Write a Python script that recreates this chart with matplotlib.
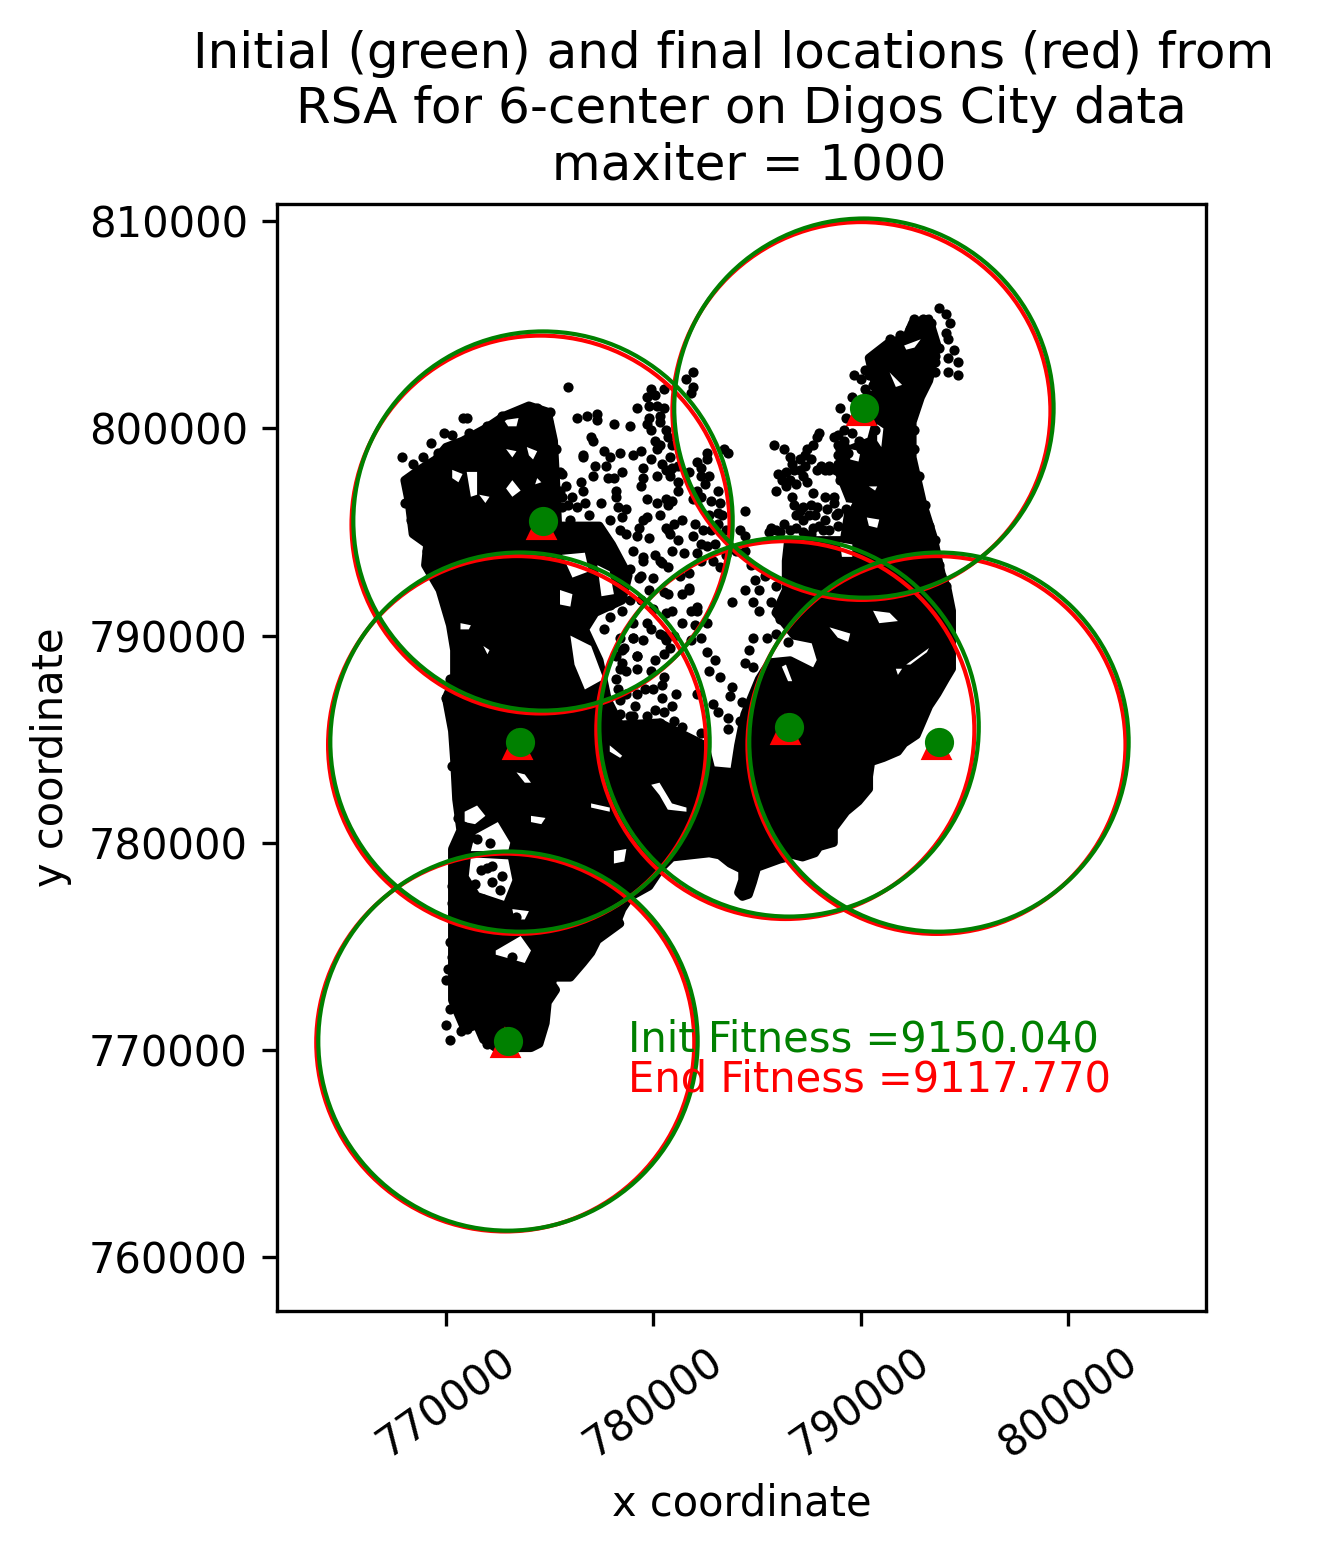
import matplotlib
matplotlib.use('Agg')
import matplotlib.pyplot as plt
import numpy as np

# everything, in thousands of map units
init_x = [790.16, 774.68, 773.57, 772.99, 786.55, 793.78]
init_y = [800.98, 795.53, 784.86, 770.43, 785.59, 784.86]
final_x = [790.04, 774.56, 773.43, 772.86, 786.37, 793.66]
final_y = [800.84, 795.36, 784.72, 770.36, 785.44, 784.72]
init_radius = 9150.040
final_radius = 9117.770

# outline of the part where the points merge into one mass
land = [(768.2,796.5),(768.0,797.5),(768.7,798.0),(769.5,798.5),(770.0,799.1),(770.8,799.4),(771.9,800.0),
        (772.8,800.6),(774.0,801.1),(774.9,800.8),(775.2,799.4),(775.3,797.5),(775.4,795.3),(776.2,795.3),
        (777.4,795.3),(778.0,794.4),(778.8,792.9),(778.5,791.7),(777.2,791.1),(776.7,790.3),(777.4,788.8),
        (777.8,786.9),(778.4,785.7),(780.3,785.8),(781.5,785.2),(782.5,784.7),(782.8,783.5),(783.9,783.4),
        (784.1,784.7),(784.4,786.2),(785.1,787.9),(785.6,788.7),(786.6,788.8),(787.8,788.2),(788.1,788.8),
        (787.8,789.8),(786.8,790.0),(786.4,790.5),(785.9,791.1),(786.4,792.2),(786.4,793.6),(786.5,794.5),
        (787.1,794.6),(789.2,794.6),(789.5,796.5),(788.9,798.0),(789.5,799.0),(790.5,799.4),(790.9,800.9),
        (790.7,802.1),(790.4,803.4),(791.3,804.1),(792.2,804.4),(792.5,805.1),(793.3,805.3),(793.7,804.0),
        (793.3,802.3),(792.9,801.5),(792.5,800.3),(792.5,798.6),(793.0,796.4),(793.5,794.8),(793.9,793.0),
        (794.2,792.2),(794.4,791.2),(794.4,790.6),(794.4,789.4),(794.4,788.4),(794.1,787.9),(793.7,787.2),
        (793.3,786.6),(793.0,785.9),(792.7,785.2),(792.1,784.8),(791.8,784.4),(791.1,784.1),(790.5,783.9),
        (790.4,783.2),(790.4,782.6),(789.9,782.0),(789.3,781.5),(788.7,780.7),(788.7,780.0),(788.0,779.8),
        (787.8,779.5),(787.2,779.3),(786.8,779.4),(786.7,779.8),(786.5,779.3),(786.1,779.2),(785.0,778.8),
        (784.8,778.1),(784.6,777.5),(784.3,777.4),(784.1,777.6),(784.3,778.2),(784.3,778.7),(783.7,779.0),
        (783.2,779.4),(782.7,779.5),(781.8,779.4),(780.9,779.3),(780.4,778.8),(779.8,777.9),(778.9,777.4),
        (778.5,776.8),(778.3,776.3),(778.4,776.1),(777.3,775.3),(777.0,774.7),(776.6,774.2),(776.0,773.5),
        (775.2,773.5),(775.1,773.2),(775.3,772.9),(774.9,772.3),(774.8,771.3),(774.5,770.3),(774.1,770.1),
        (772.4,770.1),(771.8,770.5),(771.5,771.2),(770.9,771.0),(770.3,772.4),(770.3,774.1),(770.3,777.2),
        (770.3,779.7),(770.7,780.6),(770.5,782.1),(770.4,784.0),(770.3,785.4),(770.0,787.0),(770.4,787.9),
        (770.4,789.3),(770.2,790.5),(769.7,792.2),(769.0,793.4),(769.1,794.4),(768.4,794.9)]

# gaps inside that mass
gaps = [
    [(771.2,779.3),(773.0,779.2),(773.2,778.2),(772.8,777.2),(771.6,777.6),(771.1,778.4)],
    [(771.4,780.4),(772.5,781.0),(773.1,780.0),(773.0,779.6),(771.2,779.6)],
    [(770.9,781.5),(771.5,781.8),(771.9,781.3),(771.4,780.9),(770.9,781.0)],
    [(772.4,774.8),(773.6,775.5),(774.1,774.8),(773.8,774.2),(772.4,774.6)],
    [(773.2,776.8),(774.0,776.7),(773.8,776.3),(773.3,776.3)],
    [(778.1,779.6),(778.7,779.7),(778.6,779.1),(778.1,779.0)],
    [(776.0,790.0),(777.0,789.5),(777.6,787.9),(776.7,787.4),(776.2,788.6)],
    [(779.9,782.8),(780.3,782.9),(780.9,781.9),(781.6,781.7),(781.6,781.5),(780.7,781.6),(780.3,782.3)],
    [(777.9,784.7),(778.5,784.2),(778.4,784.1),(777.9,784.4)],
    [(777.0,781.9),(777.9,781.7),(777.9,781.5),(777.0,781.7)],
    [(773.4,783.4),(773.8,783.3),(774.1,782.9),(773.8,782.9)],
    [(774.1,781.3),(774.8,781.2),(774.6,780.9),(774.1,781.0)],
    [(788.5,790.4),(789.5,790.1),(789.4,789.7),(788.9,789.9)],
    [(790.6,791.2),(791.4,791.1),(791.8,790.7),(790.9,790.6)],
    [(792.2,788.6),(793.3,789.4),(793.2,789.2),(792.4,788.6)],
    [(791.7,788.4),(792.0,788.4),(791.8,788.1)],
    [(786.4,788.6),(786.7,787.8),(786.5,787.8),(786.2,788.5)],
    [(789.0,794.5),(789.6,794.4),(789.6,793.8),(789.1,793.8)],
    [(788.8,796.5),(789.6,796.4),(789.5,796.2),(788.8,796.2)],
    [(789.5,799.0),(790.0,798.9),(789.9,798.4),(789.5,798.5)],
    [(790.3,795.7),(790.9,795.6),(790.8,795.2),(790.4,795.3)],
    [(790.4,797.2),(790.8,797.2),(790.7,797.0)],
    [(791.4,802.7),(792.0,802.1),(791.7,802.0)],
    [(790.8,800.2),(791.1,800.0),(791.0,799.1),(790.8,799.4)],
    [(792.1,804.0),(792.9,804.3),(792.6,803.9),(792.2,803.8)],
    [(773.2,797.5),(773.6,797.0),(773.2,796.7),(772.9,797.1)],
    [(773.9,799.1),(774.4,798.9),(774.2,798.5),(774.0,798.7)],
    [(772.9,799.0),(773.4,798.9),(773.2,798.6)],
    [(771.0,797.9),(771.5,797.9),(771.5,796.8),(771.2,796.7)],
    [(771.6,796.8),(772.1,796.7),(771.9,796.4)],
    [(774.4,797.6),(774.6,797.4),(774.3,797.3)],
    [(770.3,798.0),(770.8,797.8),(770.6,797.4),(770.3,797.6)],
    [(772.8,800.4),(773.5,800.5),(773.4,800.1),(773.0,800.1)],
    [(775.6,793.9),(776.7,794.0),(776.9,793.1),(776.1,792.8)],
    [(777.3,793.4),(777.9,793.1),(778.1,792.0),(777.5,791.9)],
    [(775.5,792.2),(776.1,792.0),(776.0,791.4),(775.5,791.5)],
    [(770.7,790.6),(771.2,790.5),(771.1,790.3),(770.7,790.3)],
    [(771.8,789.5),(772.1,789.3),(772.0,789.1)],
]

# single points that can still be told apart
mid_pts = [(775.9,802.0),(779.2,801.0),(778.1,800.2),(778.9,800.1),(776.3,800.5),(776.8,800.6),(777.3,800.7),
           (777.3,800.4),(777.0,799.6),(777.1,799.4),(776.6,798.7),(776.6,798.6),(777.6,798.9),(777.9,798.6),
           (778.4,798.8),(779.0,798.7),(779.4,798.9),(777.2,798.2),(777.7,798.2),(778.5,797.9),(775.6,797.8),
           (777.1,797.7),(776.5,797.4),(776.6,797.0),(777.8,797.6),(778.1,797.6),(779.5,798.1),(779.9,798.5),
           (779.5,797.6),(779.4,797.2),(779.7,796.6),(778.2,797.0),(778.2,796.7),(776.7,796.4),(777.5,796.4),
           (775.6,796.2),(776.3,796.2),(776.1,796.7),(775.8,797.2),(775.6,796.7),(778.3,796.2),(778.7,796.1),
           (778.5,795.7),(780.2,796.4),(780.6,796.6),(779.7,795.7),(779.5,795.6),(779.3,795.2),(780.6,795.2),
           (781.0,795.4),(778.7,794.9),(779.2,794.8),(779.8,794.7),(780.9,794.1),(780.3,793.6),(779.5,793.6),
           (780.0,792.8),(779.3,792.8),(780.5,792.1),(777.3,791.5),(777.9,791.5),(779.9,801.9),(780.5,801.9),
           (779.7,801.5),(780.2,801.1),(780.5,801.0),(779.8,800.5),(780.3,800.3),(779.9,799.9),(780.1,799.4),
           (780.2,799.0),(780.7,799.6),(780.8,798.6),(780.9,798.1),(780.2,797.7),(780.4,798.3),(780.1,801.6),
           (780.3,800.6),(780.6,799.9),(779.8,801.1),(779.7,800.2),(780.3,799.2),(780.9,799.2),(780.6,798.0),
           (781.2,797.0),(780.9,796.5),(775.5,797.0),(775.9,796.3),(775.3,796.5),(775.5,797.9),(776.0,795.6),
           (776.9,795.8),(777.9,795.6),(778.4,795.1),(779.0,794.1),(778.9,793.2),(779.4,792.9)]

centre_pts = [(781.6,802.4),(781.9,802.7),(781.9,802.0),(781.8,801.7),(783.4,799.0),(783.6,798.8),(782.6,798.8),
              (782.1,798.4),(782.6,798.5),(782.3,797.7),(782.7,797.7),(782.1,797.0),(782.3,796.7),(781.2,797.4),
              (781.7,797.9),(780.8,797.7),(783.1,797.0),(783.2,796.4),(783.1,795.9),(784.4,796.0),(782.0,795.4),
              (781.9,794.8),(782.4,795.1),(782.6,794.3),(783.1,795.4),(781.4,795.6),(780.7,795.1),(781.5,794.0),
              (782.1,794.0),(780.4,793.5),(779.5,793.8),(781.7,793.0),(781.7,792.3),(781.4,792.0),(780.7,792.0),
              (782.1,791.4),(783.8,791.6),(783.2,793.3),(782.9,793.6),(784.2,795.1),(784.4,794.8),(782.3,798.1),
              (782.5,797.3),(781.9,796.6),(782.8,796.5),(782.7,795.8),(783.3,795.8),(783.5,795.1),(782.8,795.1),
              (783.0,794.4),(782.3,794.4),(783.5,793.9),(784.0,794.1),(784.4,794.1),(784.7,793.4),(785.4,792.9),
              (785.9,792.4),(785.1,792.2),(784.4,792.2),(784.9,792.7),(782.3,793.6),(781.2,798.2),(780.8,798.0),
              (780.7,796.3),(780.3,795.8),(780.8,794.9),(781.2,794.6),(780.1,793.9),(780.7,793.3),(779.8,792.2),
              (779.4,791.7),(778.9,791.7),(780.9,791.2),(781.3,792.9),(781.8,791.2),(782.0,790.5)]

north_pts = [(785.8,799.2),(786.3,799.0),(786.6,798.6),(786.7,798.3),(785.9,797.0),(786.0,797.8),(786.4,797.9),
             (786.4,797.2),(786.7,796.7),(787.2,796.2),(787.2,795.6),(787.9,796.2),(785.7,795.2),(786.3,795.4),
             (786.9,795.2),(787.7,795.2),(788.0,795.3),(788.2,795.1),(787.4,797.4),(787.7,796.9),(787.2,797.7),
             (787.9,798.0),(788.5,798.0),(788.9,798.3),(789.0,799.0),(789.4,798.8),(787.1,798.5),(787.4,799.0),
             (787.9,799.6),(788.0,799.8),(788.7,799.6),(789.2,799.9),(789.6,799.8),(789.9,799.4),(789.0,801.0),
             (789.3,800.5),(789.6,801.5),(789.7,802.6),(790.2,802.8),(790.5,803.3),(788.7,796.4),(789.3,796.1),
             (788.9,795.9),(788.7,796.7),(789.0,797.5),(793.8,805.8),(794.1,805.5),(794.3,805.1),(794.1,804.6),
             (794.2,804.3),(794.5,803.8),(794.2,803.4),(794.7,803.2),(794.7,802.6),(794.2,802.7),(793.6,802.7),
             (793.8,803.9),(793.4,805.1),(792.6,804.8),(793.5,804.3),(793.6,803.2),(786.8,798.0),(786.6,797.5),
             (786.2,797.5),(786.9,797.3),(786.8,796.3),(787.1,796.0),(787.5,795.8),(787.8,795.8),(787.6,796.3),
             (786.9,795.8),(785.9,795.1),(786.1,795.0),(786.6,795.1),(787.2,795.0),(787.6,794.9),(785.6,795.0),
             (788.5,798.2),(788.3,798.0),(788.8,798.0),(788.1,798.2),(787.3,798.7),(787.7,799.2),(787.3,798.2),
             (787.6,798.5),(787.1,798.0),(788.9,799.2),(789.2,799.4),(788.9,799.7),(789.2,799.2),(788.9,798.7),
             (788.3,795.6),(788.5,795.1),(788.9,795.3),(788.8,795.8),(788.4,796.1),(788.3,796.7),(790.0,802.4),
             (790.4,802.6),(790.6,802.1),(790.2,801.9),(790.5,801.6),(790.7,802.8),(790.5,801.1),(790.8,801.4),
             (791.4,804.3),(791.9,804.5),(792.4,804.8),(793.0,805.3),(792.6,805.3),(790.6,800.4),(790.7,799.9),
             (790.5,799.4),(790.3,799.1),(790.0,799.0),(793.1,802.6),(793.6,803.5),(793.3,803.8),(792.6,799.9),
             (792.6,799.0),(792.8,797.7),(793.1,796.3),(793.3,795.3),(793.6,794.6),(793.8,793.4),(794.1,792.4)]

gap_pts = [(784.8,791.6),(785.1,791.2),(785.7,791.6),(786.1,790.8),(784.8,789.9),(785.5,789.9),(785.9,790.1),
           (786.5,789.7),(784.6,789.3),(784.4,788.7),(784.8,788.5),(782.6,789.2),(783.0,788.8),(782.3,789.9),
           (782.6,790.6),(782.1,791.2),(781.7,792.2),(781.4,790.6),(782.7,788.3),(783.2,788.0),(783.8,787.5),
           (784.3,786.8),(783.7,787.1),(782.9,786.7),(783.1,786.3),(783.6,786.0),(783.6,785.5),(784.2,785.9),
           (782.3,785.3),(782.1,787.2),(781.1,787.2),(780.4,787.0),(780.9,786.6),(780.5,786.3),(779.1,786.6),
           (779.6,787.4),(780.0,787.4),(779.2,787.2),(780.4,787.6),(779.9,788.3),(780.5,788.0),(779.2,788.4),
           (778.7,788.3),(779.2,789.0),(780.1,788.8),(780.5,789.1),(780.8,789.4),(780.0,791.3),(780.6,791.1),
           (779.5,789.8),(779.0,789.9),(779.9,790.3),(780.5,790.0),(778.6,789.4),(781.0,790.0),(781.8,789.8),
           (781.4,785.6),(781.0,785.9),(780.1,786.4),(779.7,786.1),(778.9,786.1),(780.3,785.8),(778.2,789.0),
           (778.4,788.4),(778.2,787.9),(778.3,787.4),(778.7,787.2),(778.4,786.9),(779.0,786.1),(778.4,786.2),
           (779.2,789.0),(778.5,788.7),(778.5,789.3),(779.0,789.9),(778.4,789.9),(777.6,790.3),(777.9,790.9),
           (778.5,791.2),(779.0,790.6),(779.7,790.6),(780.3,790.1),(780.6,789.8)]

west_pts = [(770.2,787.9),(770.0,787.0),(770.3,786.3),(770.4,785.3),(770.3,783.7),(770.6,782.1),(770.6,781.2),
            (770.8,780.8),(770.5,779.8),(770.7,778.8),(770.3,777.9),(770.3,777.1),(770.4,775.6),(770.2,775.2),
            (770.3,774.5),(770.1,773.9),(770.0,773.4),(770.2,772.0),(770.0,771.2),(770.2,770.5),(770.7,770.9),
            (771.0,771.0),(772.0,770.3),(772.0,778.8),(772.2,778.9),(771.7,778.7),(772.7,778.4),(772.2,778.1),
            (772.6,777.7),(771.4,778.0),(771.1,777.6),(771.8,777.3),(773.2,774.5),(773.0,776.4),(773.4,776.4),
            (771.5,780.2),(772.1,780.0),(771.2,780.3),(768.4,798.3),(768.2,797.4),(768.0,796.4),(768.5,796.9),
            (768.3,795.6),(768.6,794.9),(769.1,794.1),(769.2,793.2),(769.6,792.5),(769.3,799.3),(769.9,799.8),
            (770.3,799.7),(771.1,799.8),(771.0,800.5),(770.8,800.5),(771.4,799.3),(772.0,800.1),(772.7,800.6),
            (774.1,801.0),(774.4,801.0),(775.0,800.8),(774.9,800.3),(774.5,800.3),(774.1,799.9),(775.3,799.0),
            (767.9,798.6),(768.9,798.6),(769.6,798.8),(768.2,797.6)]

xticks = [770000, 780000, 790000, 800000]
yticks = [760000, 770000, 780000, 790000, 800000, 810000]

W, H = 1319, 1556
fig = plt.figure(figsize=(W / 300, H / 300), dpi=300)
ax = fig.add_axes([277 / W, 1 - 1311 / H, (1206 - 277) / W, (1311 - 204) / H])

land_xy = np.array(land) * 1000
ax.fill(land_xy[:, 0], land_xy[:, 1], color='k', lw=2, joinstyle='round', zorder=1)
for g in gaps:
    g_xy = np.array(g) * 1000
    ax.fill(g_xy[:, 0], g_xy[:, 1], color='w', lw=0, zorder=1.2)

pts = np.array(mid_pts + centre_pts + north_pts + gap_pts + west_pts) * 1000
ax.scatter(pts[:, 0], pts[:, 1], s=6, c='k', linewidths=0, zorder=2)

for x, y in zip(final_x, final_y):
    ax.add_patch(plt.Circle((x * 1000, y * 1000), final_radius, fill=False, color='r', lw=1, zorder=3))
for x, y in zip(init_x, init_y):
    ax.add_patch(plt.Circle((x * 1000, y * 1000), init_radius, fill=False, color='g', lw=1, zorder=3.1))

ax.plot(np.array(final_x) * 1000, np.array(final_y) * 1000, '^', color='r', ms=6, zorder=4)
ax.plot(np.array(init_x) * 1000, np.array(init_y) * 1000, 'o', color='g', ms=6, zorder=4.1)

ax.text(778800, 769930, 'Init Fitness =%.3f' % init_radius, color='g', fontsize=10, zorder=5)
ax.text(778800, 768000, 'End Fitness =%.3f' % final_radius, color='r', fontsize=10, zorder=5)

ax.set_xlim(761848, 806662)
ax.set_ylim(757403, 810830)
ax.set_xticks(xticks)
ax.set_yticks(yticks)
ax.tick_params(axis='x', labelrotation=35)
ax.set_xlabel('x coordinate')
ax.set_ylabel('y coordinate')
ax.set_title('Initial (green) and final locations (red) from \nRSA for 6-center on Digos City data\n maxiter = 1000', fontsize=12)

fig.savefig('out.png', dpi=300)
